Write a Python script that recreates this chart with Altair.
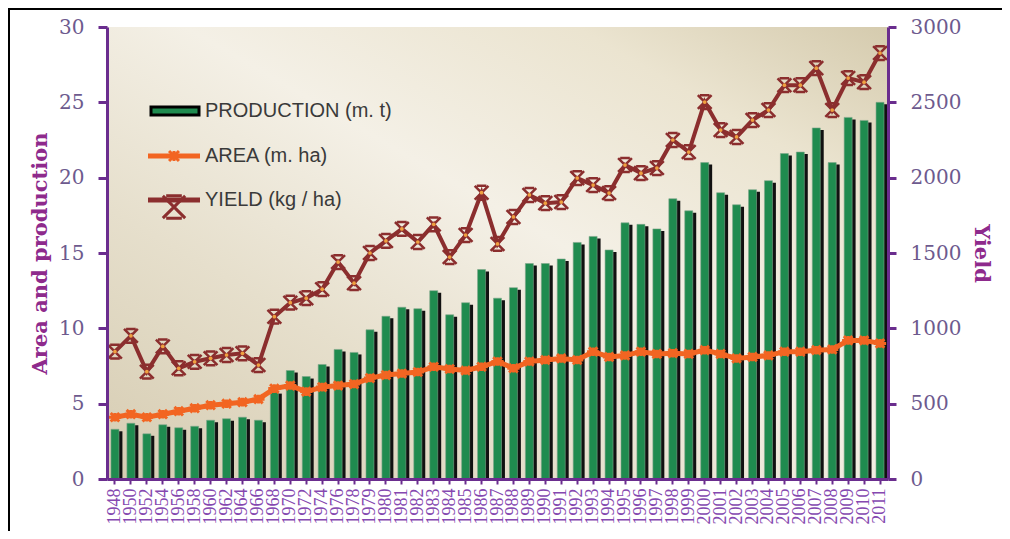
import altair as alt
import pandas as pd

years = ["1948", "1950", "1952", "1954", "1956", "1958", "1960", "1962", "1964", "1966",
         "1968", "1970", "1972", "1974", "1976", "1978", "1979", "1980", "1981", "1982",
         "1983", "1984", "1985", "1986", "1987", "1988", "1989", "1990", "1991", "1992",
         "1993", "1994", "1995", "1996", "1997", "1998", "1999", "2000", "2001", "2002",
         "2003", "2004", "2005", "2006", "2007", "2008", "2009", "2010", "2011"]

production = [3.3, 3.7, 3.0, 3.6, 3.4, 3.5, 3.9, 4.0, 4.1, 3.9,
              5.8, 7.2, 6.8, 7.6, 8.6, 8.4, 9.9, 10.8, 11.4, 11.3,
              12.5, 10.9, 11.7, 13.9, 12.0, 12.7, 14.3, 14.3, 14.6, 15.7,
              16.1, 15.2, 17.0, 16.9, 16.6, 18.6, 17.8, 21.0, 19.0, 18.2,
              19.2, 19.8, 21.6, 21.7, 23.3, 21.0, 24.0, 23.8, 25.0]

area = [4.1, 4.3, 4.1, 4.3, 4.5, 4.7, 4.9, 5.0, 5.1, 5.3,
        6.0, 6.2, 5.8, 6.1, 6.2, 6.3, 6.7, 6.9, 7.0, 7.1,
        7.45, 7.3, 7.2, 7.45, 7.8, 7.35, 7.8, 7.9, 8.0, 7.9,
        8.45, 8.1, 8.2, 8.45, 8.3, 8.35, 8.3, 8.55, 8.3, 8.0,
        8.1, 8.2, 8.45, 8.45, 8.55, 8.6, 9.2, 9.2, 9.0]

yield_kg = [845, 950, 712, 880, 735, 778, 801, 823, 834, 756,
            1077, 1170, 1200, 1260, 1440, 1300, 1500, 1580, 1660, 1573,
            1690, 1473, 1619, 1900, 1560, 1739, 1885, 1831, 1838, 1997,
            1951, 1898, 2084, 2030, 2064, 2250, 2170, 2502, 2316, 2270,
            2382, 2449, 2614, 2614, 2727, 2449, 2661, 2634, 2827]

left_ticks = [0, 5, 10, 15, 20, 25, 30]
right_ticks = [0, 500, 1000, 1500, 2000, 2500, 3000]
legend_labels = ["PRODUCTION (m. t)", "AREA (m. ha)", "YIELD (kg / ha)"]

df = pd.DataFrame({"year": years, "production": production, "area": area, "yield": yield_kg})
one = pd.DataFrame({"k": [0]})

W, H = 781, 452
PURPLE = "#6a2d8e"
LABEL_PURPLE = "#6d5a8e"
TITLE_PURPLE = "#8e2a8c"
XLABEL_PURPLE = "#8548b0"
GREEN = "#1f8b4f"
ORANGE = "#f26522"
MAROON = "#8b2e2e"

STAR = "M-1,0L1,0M0,-0.7L0,0.7M-0.7,-0.7L0.7,0.7M0.7,-0.7L-0.7,0.7"
XCAP = "M-1,-1L1,1M1,-1L-1,1M-0.7,-1L0.7,-1M-0.7,1L0.7,1"

x_enc = alt.X("year:N", sort=years,
              scale=alt.Scale(paddingInner=0, paddingOuter=0),
              axis=alt.Axis(title=None, labelAngle=270, labelFont="Liberation Serif",
                            labelFontSize=18, labelColor=XLABEL_PURPLE, labelPadding=4,
                            domainColor=PURPLE, domainWidth=3, tickColor=PURPLE,
                            tickSize=5, tickWidth=2, zindex=1))

left_axis = alt.Axis(values=left_ticks, title="Area and production", orient="left",
                     titleFont="DejaVu Serif", titleFontSize=21, titleFontWeight="bold",
                     titleColor=TITLE_PURPLE, titlePadding=8,
                     labelFont="DejaVu Serif", labelFontSize=20, labelColor=LABEL_PURPLE,
                     labelPadding=14, domainColor=PURPLE, domainWidth=3,
                     tickColor=PURPLE, tickSize=9, tickWidth=3, grid=False, zindex=1)
left_scale = alt.Scale(domain=[0, 30], nice=False)

right_axis = alt.Axis(values=right_ticks, format="d", title="Yield", orient="right",
                      titleFont="DejaVu Serif", titleFontSize=21, titleFontWeight="bold",
                      titleColor=TITLE_PURPLE, titlePadding=10, titleAngle=90,
                      labelFont="DejaVu Serif", labelFontSize=20, labelColor=LABEL_PURPLE,
                      labelPadding=14, domainColor=PURPLE, domainWidth=3,
                      tickColor=PURPLE, tickSize=8, tickWidth=3, grid=False, zindex=1)
right_scale = alt.Scale(domain=[0, 3000], nice=False)

gradient = alt.LinearGradient(
    gradient="linear",
    stops=[alt.GradientStop(color="#d6ccb2", offset=0),
           alt.GradientStop(color="#e6dfcc", offset=0.3),
           alt.GradientStop(color="#f4f0e6", offset=0.55),
           alt.GradientStop(color="#ebe4d0", offset=0.8),
           alt.GradientStop(color="#d5cbae", offset=1)],
    x1=0, x2=1, y1=1, y2=0)

frame = alt.Chart(one).mark_rect(fillOpacity=0, stroke="black", strokeWidth=2).encode(
    x=alt.value(-98), x2=alt.value(1000), y=alt.value(-18), y2=alt.value(800))

bg = alt.Chart(one).mark_rect(color=gradient).encode(
    x=alt.value(0), x2=alt.value(W), y=alt.value(0), y2=alt.value(H))

base = alt.Chart(df)

shadow = base.mark_bar(color="#111111", size=6.5, xOffset=4.2, yOffset=2).encode(
    x=x_enc, y=alt.Y("production:Q", scale=left_scale, axis=left_axis))
bars = base.mark_bar(color=GREEN, size=8, stroke="#7fa68c", strokeWidth=0.6).encode(
    x=x_enc, y=alt.Y("production:Q", scale=left_scale, axis=left_axis))

area_line = base.mark_line(color=ORANGE, strokeWidth=5).encode(
    x=x_enc, y=alt.Y("area:Q", scale=left_scale, axis=left_axis))
area_pts = base.mark_point(shape=STAR, size=150, filled=False, color=ORANGE,
                           strokeWidth=3, opacity=1).encode(
    x=x_enc, y=alt.Y("area:Q", scale=left_scale, axis=left_axis))

# legend
leg_prod = alt.Chart(one).mark_rect(fill=GREEN, stroke="black", strokeWidth=3).encode(
    x=alt.value(44), x2=alt.value(92), y=alt.value(80), y2=alt.value(88))
leg_area_line = alt.Chart(one).mark_rule(color=ORANGE, strokeWidth=5).encode(
    x=alt.value(41), x2=alt.value(93), y=alt.value(129))
leg_area_pt = alt.Chart(one).mark_point(shape=STAR, size=200, filled=False, color=ORANGE,
                                        strokeWidth=3, opacity=1).encode(
    x=alt.value(67), y=alt.value(129))
leg_yield_line = alt.Chart(one).mark_rule(color=MAROON, strokeWidth=5).encode(
    x=alt.value(41), x2=alt.value(93), y=alt.value(173))
leg_yield_pt = alt.Chart(one).mark_point(shape=XCAP, size=500, filled=False, color=MAROON,
                                         strokeWidth=3, opacity=1).encode(
    x=alt.value(67), y=alt.value(180))
leg_text = alt.layer(*[
    alt.Chart(one).mark_text(align="left", baseline="middle", font="Liberation Sans",
                             fontSize=20, color="#3a3a3a").encode(
        x=alt.value(98), y=alt.value(yy), text=alt.value(lbl))
    for lbl, yy in zip(legend_labels, [84, 129, 173])
])

left = alt.layer(frame, bg, shadow, bars, area_line, area_pts,
                 leg_prod, leg_area_line, leg_area_pt, leg_yield_line, leg_yield_pt, leg_text)

yield_line = base.mark_line(color=MAROON, strokeWidth=4).encode(
    x=x_enc, y=alt.Y("yield:Q", scale=right_scale, axis=right_axis))
yield_pts = base.mark_point(shape=XCAP, size=190, filled=False, color=MAROON,
                            strokeWidth=2.5, opacity=1).encode(
    x=x_enc, y=alt.Y("yield:Q", scale=right_scale, axis=right_axis))
yield_dot = base.mark_point(shape="circle", size=14, filled=True, color="#f0a040",
                            opacity=1).encode(
    x=x_enc, y=alt.Y("yield:Q", scale=right_scale, axis=right_axis))

right = alt.layer(yield_line, yield_pts, yield_dot)

chart = alt.layer(left, right).resolve_scale(y="independent").properties(
    width=W, height=H,
    padding={"left": 99, "top": 19, "right": 114, "bottom": 52},
    autosize=alt.AutoSizeParams(type="none"),
    background="white",
).configure_view(stroke=None)

chart.save("out.html", embed_options={"renderer": "svg", "actions": False})
